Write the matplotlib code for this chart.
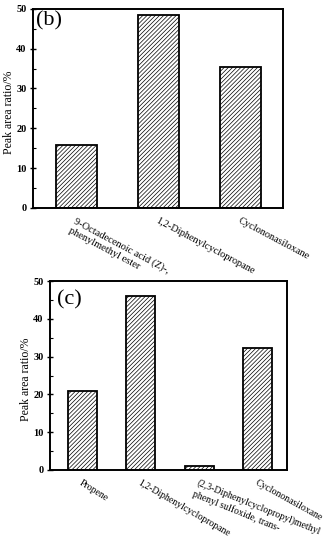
import matplotlib
matplotlib.use("Agg")
import matplotlib.pyplot as plt
from matplotlib.ticker import MultipleLocator

plt.rcParams['font.family'] = ['Liberation Serif', 'DejaVu Serif']
plt.rcParams['hatch.linewidth'] = 0.5
plt.rcParams['hatch.color'] = '#333333'

# panel (b)
labels_b = ['9-Octadecenoic acid (Z)-,\nphenylmethyl ester',
            '1,2-Diphenylcyclopropane',
            'Cyclononasiloxane']
values_b = [15.7, 48.5, 35.5]

# panel (c)
labels_c = ['Propene',
            '1,2-Diphenylcyclopropane',
            '(2,3-Diphenylcyclopropyl)methyl\nphenyl sulfoxide, trans-',
            'Cyclononasiloxane']
values_c = [20.9, 46.0, 1.1, 32.2]

fig = plt.figure(figsize=(3.3, 5.5), dpi=100)
ax1 = fig.add_axes([0.100, 0.622, 0.758, 0.362])
ax2 = fig.add_axes([0.1515, 0.1455, 0.718, 0.3435])


def draw(ax, labels, values, tag, xlim, fs, rots, tagpos, ylab_x):
    x = range(len(values))
    ax.bar(x, values, width=0.5, color='white', edgecolor='black',
           linewidth=1.3, hatch='////////')
    ax.set_xlim(*xlim)
    ax.set_ylim(0, 50)
    ax.yaxis.set_major_locator(MultipleLocator(10))
    ax.yaxis.set_minor_locator(MultipleLocator(5))
    ax.tick_params(axis='y', which='major', direction='inout', length=5,
                   width=1, labelsize=7.5, pad=2)
    ax.tick_params(axis='y', which='minor', direction='in', length=2.5, width=0.8)
    for lab in ax.get_yticklabels():
        lab.set_fontweight('bold')
    ax.set_xticks(list(x))
    ax.set_xticklabels(labels, ha='left', rotation_mode='anchor',
                       fontsize=fs, multialignment='left')
    for lab, r in zip(ax.get_xticklabels(), rots):
        lab.set_rotation(r)
    ax.tick_params(axis='x', length=0, pad=6)
    for s in ax.spines.values():
        s.set_linewidth(1.4)
    ax.set_ylabel('Peak area ratio/%', fontsize=8.5)
    ax.yaxis.set_label_coords(ylab_x, 0.48)
    ax.text(tagpos[0], tagpos[1], tag, transform=ax.transAxes, fontsize=16,
            ha='left', va='top')


draw(ax1, labels_b, values_b, '(b)', (-0.53, 2.52), 7.5, [-28, -28, -28],
     (0.012, 0.99), -0.07)
draw(ax2, labels_c, values_c, '(c)', (-0.55, 3.5), 7, [-32, -30, -22, -29],
     (0.03, 0.95), -0.075)

fig.savefig('out.png', dpi=100)
